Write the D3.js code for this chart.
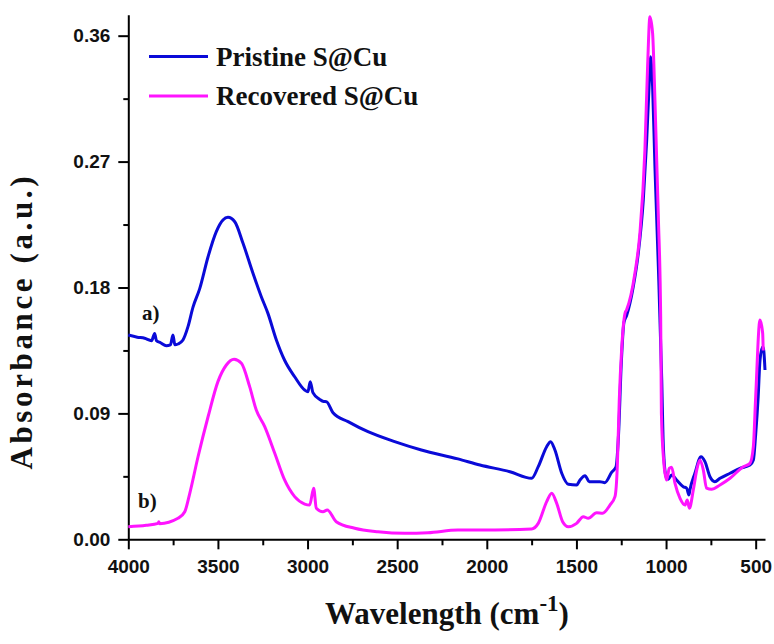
<!DOCTYPE html>
<html>
<head>
<meta charset="utf-8">
<script src="https://cdn.jsdelivr.net/npm/d3@7"></script>
<style>
    body { margin: 0; background: #fff; }
    svg { display: block; }
    .tick-label { font-family: "Liberation Sans", Arial, sans-serif; font-weight: bold; }
    .serif { font-family: "Liberation Serif", "Times New Roman", serif; font-weight: bold; }
</style>
</head>
<body>
<div id="chart"></div>
<script>
// Pristine S@Cu (blue), wavenumber (cm-1) and absorbance
const pristineWn = [4000, 3950, 3909, 3870, 3853, 3843, 3820, 3788, 3765, 3751, 3740, 3723, 3695, 3667, 3639, 3602, 3555, 3509, 3472, 3444, 3406, 3360, 3304, 3258, 3221, 3174, 3128, 3072, 3016, 2998, 2985, 2970, 2932, 2910, 2895, 2858, 2774, 2663, 2514, 2365, 2161, 2038, 1871, 1750, 1713, 1666, 1644, 1620, 1582, 1545, 1499, 1480, 1452, 1428, 1369, 1341, 1303, 1279, 1265, 1250, 1235, 1220, 1183, 1155, 1127, 1108, 1094, 1086, 1075, 1062, 1043, 1024, 1015, 1000, 988, 969, 941, 904, 885, 872, 867, 839, 805, 783, 755, 728, 699, 643, 588, 532, 513, 500, 486, 476, 461, 455, 448];
const pristineAbs = [0.146, 0.1445, 0.1437, 0.142, 0.1472, 0.142, 0.1405, 0.1384, 0.139, 0.146, 0.139, 0.1396, 0.1425, 0.152, 0.166, 0.179, 0.202, 0.2199, 0.2282, 0.2302, 0.227, 0.2116, 0.190, 0.1734, 0.1615, 0.1425, 0.128, 0.1162, 0.1067, 0.1055, 0.1127, 0.1048, 0.100, 0.0985, 0.0984, 0.0905, 0.0841, 0.0769, 0.0698, 0.0638, 0.0575, 0.0531, 0.0483, 0.0436, 0.0519, 0.0662, 0.0698, 0.0638, 0.0472, 0.0393, 0.0388, 0.0424, 0.0455, 0.0412, 0.0412, 0.0405, 0.048, 0.0519, 0.075, 0.125, 0.155, 0.160, 0.1806, 0.2044, 0.2425, 0.2854, 0.326, 0.345, 0.3235, 0.2663, 0.195, 0.1139, 0.0662, 0.0447, 0.0429, 0.046, 0.0424, 0.0376, 0.0365, 0.0317, 0.0352, 0.0472, 0.059, 0.0555, 0.0447, 0.0412, 0.0436, 0.0472, 0.0507, 0.0531, 0.0567, 0.075, 0.1019, 0.128, 0.1377, 0.135, 0.121];

// Recovered S@Cu (magenta)
const recoveredWn = [4000, 3900, 3834, 3830, 3825, 3723, 3685, 3657, 3611, 3555, 3500, 3453, 3410, 3369, 3323, 3286, 3239, 3183, 3128, 3072, 3016, 2988, 2966, 2951, 2914, 2890, 2840, 2737, 2607, 2458, 2328, 2161, 2038, 1750, 1713, 1666, 1638, 1610, 1577, 1545, 1499, 1462, 1434, 1387, 1354, 1313, 1285, 1272, 1261, 1248, 1229, 1220, 1174, 1146, 1118, 1103, 1090, 1075, 1062, 1043, 1030, 1026, 1012, 997, 982, 969, 950, 922, 894, 882, 870, 848, 829, 811, 792, 774, 746, 699, 643, 569, 532, 513, 500, 476, 461, 458];
const recoveredAbs = [0.009, 0.010, 0.0114, 0.0125, 0.0112, 0.015, 0.0197, 0.0329, 0.059, 0.0876, 0.1127, 0.1246, 0.1287, 0.1258, 0.1091, 0.0924, 0.0805, 0.0615, 0.0424, 0.0305, 0.0252, 0.0245, 0.0365, 0.0222, 0.0197, 0.0209, 0.0126, 0.0079, 0.0054, 0.0043, 0.0047, 0.0066, 0.0066, 0.0074, 0.0114, 0.0269, 0.0329, 0.0257, 0.0126, 0.009, 0.0114, 0.0162, 0.015, 0.019, 0.0186, 0.0245, 0.0305, 0.0519, 0.0996, 0.1353, 0.1615, 0.164, 0.190, 0.2187, 0.2783, 0.3378, 0.3736, 0.3617, 0.314, 0.2306, 0.159, 0.09, 0.0543, 0.0424, 0.0507, 0.0515, 0.040, 0.0293, 0.0245, 0.0281, 0.0222, 0.0352, 0.0495, 0.0567, 0.0495, 0.0365, 0.0357, 0.0388, 0.0436, 0.0519, 0.0543, 0.0662, 0.1019, 0.1568, 0.1473, 0.135];

const seriesNames = ["Pristine S@Cu", "Recovered S@Cu"];
const seriesColors = ["#0a0ad8", "#ff14ff"];
const yTicks = [0, 0.09, 0.18, 0.27, 0.36];
const yMinorTicks = [0.045, 0.135, 0.225, 0.315];
const xTicks = [4000, 3500, 3000, 2500, 2000, 1500, 1000, 500];
const xMinorTicks = [3750, 3250, 2750, 2250, 1750, 1250, 750];

const width = 774, height = 644;
const svg = d3.select("#chart").append("svg")
    .attr("width", width)
    .attr("height", height);

const x = d3.scaleLinear().domain([4000, 448]).range([128.3, 765]);
const y = d3.scaleLinear().domain([0, 0.375]).range([539.3, 14.7]);

// minor ticks first so the major ones draw on top
svg.append("g")
    .attr("transform", `translate(0,${y(0)})`)
    .call(d3.axisBottom(x).tickValues(xMinorTicks).tickSize(6).tickFormat(""))
    .call(g => g.select(".domain").remove());
svg.append("g")
    .attr("transform", `translate(${x(4000)},0)`)
    .call(d3.axisLeft(y).tickValues(yMinorTicks).tickSize(5).tickFormat(""))
    .call(g => g.select(".domain").remove());

const xAxis = svg.append("g")
    .attr("transform", `translate(0,${y(0)})`)
    .call(d3.axisBottom(x).tickValues(xTicks).tickSize(10).tickSizeOuter(0).tickPadding(10).tickFormat(d3.format("d")));
const yAxis = svg.append("g")
    .attr("transform", `translate(${x(4000)},0)`)
    .call(d3.axisLeft(y).tickValues(yTicks).tickSize(10).tickSizeOuter(0).tickPadding(8).tickFormat(d3.format(".2f")));

svg.selectAll(".tick line").attr("stroke", "#000").attr("stroke-width", 2);
[xAxis, yAxis].forEach(g => {
    g.select(".domain").attr("stroke", "#000").attr("stroke-width", 2);
    g.selectAll(".tick text")
        .attr("class", "tick-label")
        .attr("fill", "#111")
        .style("font-size", "19px");
});

// spectra
const line = d3.line()
    .x(d => x(d[0]))
    .y(d => y(d[1]))
    .curve(d3.curveMonotoneX);

const series = [
    d3.zip(pristineWn, pristineAbs),
    d3.zip(recoveredWn, recoveredAbs)
];

// recovered drawn last, it sits on top at the main peak
series.forEach((pts, i) => {
    svg.append("path")
        .datum(pts)
        .attr("fill", "none")
        .attr("stroke", seriesColors[i])
        .attr("stroke-width", 3)
        .attr("stroke-linejoin", "round")
        .attr("d", line);
});

// legend
const legend = svg.append("g");
seriesNames.forEach((name, i) => {
    const ly = 56.5 + i * 39.5;
    legend.append("line")
        .attr("x1", 149).attr("x2", 208)
        .attr("y1", ly).attr("y2", ly)
        .attr("stroke", seriesColors[i])
        .attr("stroke-width", 3);
    legend.append("text")
        .attr("class", "serif")
        .attr("x", 216).attr("y", ly + 9)
        .style("font-size", "27px")
        .attr("fill", "#111")
        .text(name);
});

// curve labels
svg.append("text").attr("class", "serif")
    .attr("x", 142).attr("y", 320)
    .style("font-size", "21px").attr("fill", "#111")
    .text("a)");
svg.append("text").attr("class", "serif")
    .attr("x", 138).attr("y", 508)
    .style("font-size", "21px").attr("fill", "#111")
    .text("b)");

// axis titles
const xTitle = svg.append("text").attr("class", "serif")
    .attr("x", 447).attr("y", 624)
    .attr("text-anchor", "middle")
    .style("font-size", "31px")
    .attr("fill", "#111");
xTitle.append("tspan").text("Wavelength (cm");
xTitle.append("tspan").attr("dy", -13).style("font-size", "23px").text("-1");
xTitle.append("tspan").attr("dy", 13).text(")");

svg.append("text").attr("class", "serif")
    .attr("transform", "translate(32,323) rotate(-90)")
    .attr("text-anchor", "middle")
    .attr("textLength", 293)
    .attr("lengthAdjust", "spacing")
    .style("font-size", "31px")
    .attr("fill", "#111")
    .text("Absorbance (a.u.)");
</script>
</body>
</html>
